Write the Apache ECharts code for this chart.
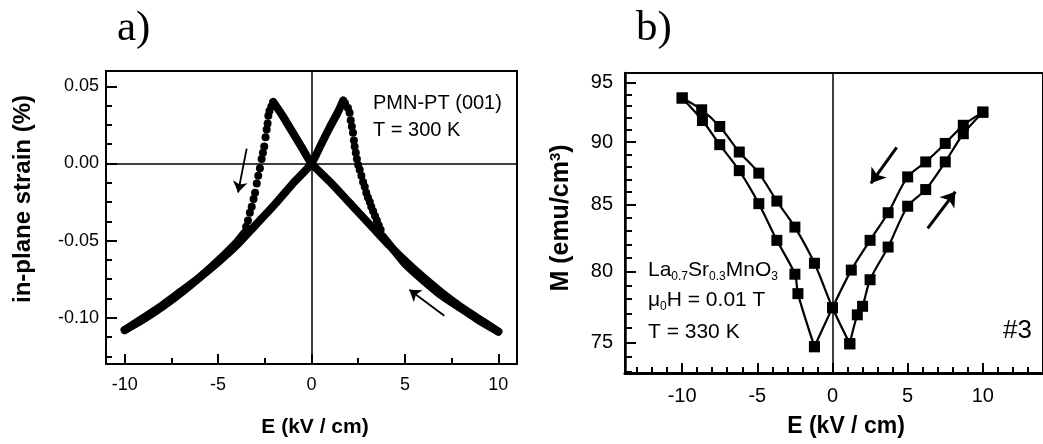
<!DOCTYPE html>
<html><head><meta charset="utf-8">
<script src="https://cdn.jsdelivr.net/npm/echarts@6/dist/echarts.min.js"></script>
<style>html,body{margin:0;padding:0;background:#fff}#c{width:1043px;height:444px}</style>
</head><body><div id="c"></div>
<script>
// ---------- Panel a) ----------
const aXMajor = [-10, -5, 0, 5, 10];
const aXMinor = [-7.5, -2.5, 2.5, 7.5];
const aYMajor = [-0.10, -0.05, 0.00, 0.05];
const aYMinor = [-0.125, -0.1125, -0.0875, -0.075, -0.0625, -0.0375, -0.025, -0.0125, 0.0125, 0.025, 0.0375];
// increasing E: lower-left band -> origin -> right peak
const aUpLeft = [[-10,-0.108],[-9,-0.100],[-8,-0.092],[-7,-0.083],[-6,-0.074],[-5,-0.064],[-4,-0.053],[-3,-0.040],[-2,-0.027],[-1,-0.013],[0,0],[0.5,0.012],[1,0.024],[1.4,0.033],[1.7,0.041]];
// increasing E: switching drop after right peak
const aUpDrop = [[1.8,0.039],[1.95,0.036],[2.04,0.033],[2.1,0.028],[2.16,0.024],[2.22,0.020],[2.27,0.015],[2.31,0.011],[2.37,0.007],[2.43,0.003],[2.5,-0.001],[2.58,-0.004],[2.67,-0.008],[2.76,-0.012],[2.85,-0.015],[2.93,-0.019],[3.02,-0.022],[3.12,-0.025],[3.2,-0.028],[3.3,-0.031],[3.4,-0.034],[3.5,-0.037],[3.6,-0.040],[3.7,-0.043]];
// increasing E: lower-right band to +10
const aUpRight = [[3.8,-0.047],[4.2,-0.053],[5,-0.065],[6,-0.076],[7,-0.086],[8,-0.094],[9,-0.102],[10,-0.109]];
// decreasing E: lower-right band -> origin -> left peak
const aDownRight = [[10,-0.109],[9,-0.101],[8,-0.093],[7,-0.084],[6,-0.074],[5,-0.063],[4,-0.051],[3,-0.038],[2,-0.025],[1,-0.012],[0,0],[-0.5,0.010],[-1,0.020],[-1.5,0.030],[-2.05,0.040]];
// decreasing E: switching drop after left peak
const aDownDrop = [[-2.15,0.037],[-2.25,0.034],[-2.31,0.031],[-2.35,0.026],[-2.4,0.022],[-2.46,0.017],[-2.53,0.011],[-2.6,0.007],[-2.67,0.003],[-2.76,-0.003],[-2.85,-0.008],[-2.93,-0.013],[-3.02,-0.019],[-3.1,-0.023],[-3.2,-0.028],[-3.3,-0.032],[-3.4,-0.037],[-3.5,-0.041]];
// decreasing E: lower-left band to -10
const aDownLeft = [[-3.6,-0.045],[-4,-0.051],[-5,-0.063],[-6,-0.074],[-7,-0.084],[-8,-0.093],[-9,-0.101],[-10,-0.108]];
const aArrows = [[[-3.47,0.0097],[-3.93,-0.0188]], [[7.11,-0.0987],[5.24,-0.0818]]];

// ---------- Panel b) ----------
const bXMajor = [-10, -5, 0, 5, 10];
const bXMinor = [-13,-12,-11,-9,-8,-7,-6,-4,-3,-2,-1,1,2,3,4,6,7,8,9,11,12,13,14];
const bYMajor = [75, 80, 85, 90, 95];
const bYMinor = [73,74,76,77,78,79,81,82,83,84,86,87,88,89,91,92,93,94];
const bUpperLeft = [[-10,93.7],[-8.7,92.7],[-7.5,91.3],[-6.2,89.2],[-4.9,87.5],[-3.7,85.3],[-2.5,83.3],[-1.2,80.6],[0,77.4],[1.15,74.9]];
const bLowerRight = [[1.15,74.9],[1.65,76.9],[2.0,77.5],[2.5,79.4],[3.7,81.8],[5.0,84.9],[6.2,86.2],[7.5,88.4],[8.7,90.7],[10,92.5]];
const bUpperRight = [[10,92.5],[8.7,91.4],[7.5,89.9],[6.2,88.4],[5.0,87.2],[3.7,84.4],[2.5,82.3],[1.25,80.1],[0,77.4],[-1.2,74.7]];
const bLowerLeft = [[-1.2,74.7],[-2.3,78.4],[-2.5,79.8],[-3.7,82.3],[-4.9,85.1],[-6.2,87.7],[-7.5,89.8],[-8.65,91.8],[-10,93.7]];
const bArrows = [[[4.27,89.57],[2.55,86.69]], [[6.33,83.2],[8.17,86.03]]];

const SANS = '"Liberation Sans", Arial, Helvetica, sans-serif';
const SERIF = '"Liberation Serif", "Times New Roman", serif';
const BLACK = '#000';

function majorAxis(extra, ticks, len, fs, margin, lw, fmt) {
  return Object.assign({
    type: 'value',
    axisLine: { show: true, onZero: false, lineStyle: { color: BLACK, width: lw } },
    axisTick: { show: true, inside: true, length: len, customValues: ticks, lineStyle: { color: BLACK, width: 2 } },
    axisLabel: { show: true, customValues: ticks, margin: margin, color: BLACK, fontSize: fs, fontFamily: SANS, formatter: fmt },
    splitLine: { show: false }
  }, extra);
}
function minorAxis(extra, ticks, len) {
  return Object.assign({
    type: 'value',
    axisLine: { show: false, onZero: false },
    axisTick: { show: true, inside: true, length: len, customValues: ticks, lineStyle: { color: BLACK, width: 2 } },
    axisLabel: { show: false },
    splitLine: { show: false }
  }, extra);
}
const intFmt = v => String(Math.round(v));

function arrowLines(arr) {
  return arr.map(p => [{ coord: p[0] }, { coord: p[1] }]);
}
const bandStyle = { color: BLACK, width: 8, cap: 'round', join: 'round' };
const dotStyle = { color: BLACK, opacity: 1 };
const subRich = { s: { fontSize: 12, fontFamily: SANS, verticalAlign: 'bottom', lineHeight: 8 } };

const option = {
  animation: false,
  backgroundColor: '#fff',
  grid: [
    { left: 106, top: 71, width: 411, height: 293, show: true, borderColor: BLACK, borderWidth: 2, backgroundColor: 'transparent' },
    { left: 625, top: 73, width: 428, height: 300, show: true, borderColor: BLACK, borderWidth: 2, backgroundColor: 'transparent' }
  ],
  xAxis: [
    majorAxis({ gridIndex: 0, min: -11, max: 11, position: 'bottom' }, aXMajor, 10, 18, 12, 2, intFmt),
    minorAxis({ gridIndex: 0, min: -11, max: 11, position: 'bottom' }, aXMinor, 6),
    majorAxis({ gridIndex: 1, min: -13.8, max: 14, position: 'bottom' }, bXMajor, 10, 20, 13, 3, intFmt),
    minorAxis({ gridIndex: 1, min: -13.8, max: 14, position: 'bottom' }, bXMinor, 6)
  ],
  yAxis: [
    majorAxis({ gridIndex: 0, min: -0.13, max: 0.06, position: 'left' }, aYMajor, 11, 18, 7, 2, v => v.toFixed(2)),
    minorAxis({ gridIndex: 0, min: -0.13, max: 0.06, position: 'left' }, aYMinor, 6),
    majorAxis({ gridIndex: 1, type: 'log', logBase: 10, min: 72.93, max: 95.86, position: 'left' }, bYMajor, 11, 20, 12, 2.5, intFmt),
    minorAxis({ gridIndex: 1, type: 'log', logBase: 10, min: 72.93, max: 95.86, position: 'left' }, bYMinor, 7)
  ],
  series: [
    { type: 'line', xAxisIndex: 0, yAxisIndex: 0, data: aUpLeft, symbol: 'none', smooth: 0.2, lineStyle: bandStyle, z: 3,
      markLine: { silent: true, symbol: ['none', 'none'], label: { show: false },
        lineStyle: { color: BLACK, width: 1.5, type: 'solid' },
        data: [{ xAxis: 0 }, { yAxis: 0 }] } },
    { type: 'scatter', xAxisIndex: 0, yAxisIndex: 0, data: aUpDrop, symbol: 'circle', symbolSize: 8, itemStyle: dotStyle, z: 3 },
    { type: 'line', xAxisIndex: 0, yAxisIndex: 0, data: aUpRight, symbol: 'none', smooth: 0.2, lineStyle: bandStyle, z: 3 },
    { type: 'line', xAxisIndex: 0, yAxisIndex: 0, data: aDownRight, symbol: 'none', smooth: 0.2, lineStyle: bandStyle, z: 3,
      markLine: { silent: true, symbol: ['none', 'arrow'], symbolSize: 11, label: { show: false },
        lineStyle: { color: BLACK, width: 1.8, type: 'solid' },
        data: arrowLines(aArrows) } },
    { type: 'scatter', xAxisIndex: 0, yAxisIndex: 0, data: aDownDrop, symbol: 'circle', symbolSize: 8, itemStyle: dotStyle, z: 3 },
    { type: 'line', xAxisIndex: 0, yAxisIndex: 0, data: aDownLeft, symbol: 'none', smooth: 0.2, lineStyle: bandStyle, z: 3 },

    { type: 'line', xAxisIndex: 2, yAxisIndex: 2, data: bUpperLeft, symbol: 'rect', symbolSize: 11, smooth: 0.3,
      itemStyle: dotStyle, lineStyle: { color: BLACK, width: 2.2 }, z: 3,
      markLine: { silent: true, symbol: ['none', 'none'], label: { show: false },
        lineStyle: { color: BLACK, width: 1.5, type: 'solid' }, data: [{ xAxis: 0 }] } },
    { type: 'line', xAxisIndex: 2, yAxisIndex: 2, data: bLowerRight, symbol: 'rect', symbolSize: 11, smooth: 0.3,
      itemStyle: dotStyle, lineStyle: { color: BLACK, width: 2.2 }, z: 3 },
    { type: 'line', xAxisIndex: 2, yAxisIndex: 2, data: bUpperRight, symbol: 'rect', symbolSize: 11, smooth: 0.3,
      itemStyle: dotStyle, lineStyle: { color: BLACK, width: 2.2 }, z: 3,
      markLine: { silent: true, symbol: ['none', 'arrow'], symbolSize: 14, label: { show: false },
        lineStyle: { color: BLACK, width: 3, type: 'solid' }, data: arrowLines(bArrows) } },
    { type: 'line', xAxisIndex: 2, yAxisIndex: 2, data: bLowerLeft, symbol: 'rect', symbolSize: 11, smooth: 0.3,
      itemStyle: dotStyle, lineStyle: { color: BLACK, width: 2.2 }, z: 3 }
  ],
  graphic: [
    { type: 'text', x: 117, y: 29, style: { text: 'a)', font: '43px ' + SERIF, fill: BLACK, align: 'left', verticalAlign: 'middle' } },
    { type: 'text', x: 636, y: 29, style: { text: 'b)', font: '43px ' + SERIF, fill: BLACK, align: 'left', verticalAlign: 'middle' } },
    { type: 'text', x: 373, y: 103, style: { text: 'PMN-PT (001)', font: '20px ' + SANS, fill: BLACK, align: 'left', verticalAlign: 'middle' } },
    { type: 'text', x: 373, y: 130, style: { text: 'T = 300 K', font: '20px ' + SANS, fill: BLACK, align: 'left', verticalAlign: 'middle' } },
    { type: 'text', x: 315, y: 427, style: { text: 'E (kV / cm)', font: 'bold 21px ' + SANS, fill: BLACK, align: 'center', verticalAlign: 'middle' } },
    { type: 'text', x: 23, y: 199, rotation: Math.PI / 2, style: { text: 'in-plane strain (%)', font: 'bold 24px ' + SANS, fill: BLACK, align: 'center', verticalAlign: 'middle' } },
    { type: 'text', x: 846, y: 427, style: { text: 'E (kV / cm)', font: 'bold 23px ' + SANS, fill: BLACK, align: 'center', verticalAlign: 'middle' } },
    { type: 'text', x: 561, y: 218, rotation: Math.PI / 2, style: {
        text: 'M (emu/cm{sup|3})', font: 'bold 25px ' + SANS, fill: BLACK, align: 'center', verticalAlign: 'middle',
        rich: { sup: { fontSize: 15, fontWeight: 'bold', fontFamily: SANS, verticalAlign: 'top', lineHeight: 6 } } } },
    { type: 'text', x: 648, y: 270, style: {
        text: 'La{s|0.7}Sr{s|0.3}MnO{s|3}', font: '21px ' + SANS, lineHeight: 26, fill: BLACK, align: 'left', verticalAlign: 'middle', rich: subRich } },
    { type: 'text', x: 648, y: 300, style: {
        text: 'μ{s|0}H = 0.01 T', font: '21px ' + SANS, lineHeight: 26, fill: BLACK, align: 'left', verticalAlign: 'middle', rich: subRich } },
    { type: 'text', x: 648, y: 332, style: { text: 'T = 330 K', font: '21px ' + SANS, fill: BLACK, align: 'left', verticalAlign: 'middle' } },
    { type: 'text', x: 1003, y: 331, style: { text: '#3', font: '26px ' + SANS, fill: BLACK, align: 'left', verticalAlign: 'middle' } }
  ]
};
const chart = echarts.init(document.getElementById('c'), null, { renderer: 'canvas' });
chart.setOption(option);
</script></body></html>
